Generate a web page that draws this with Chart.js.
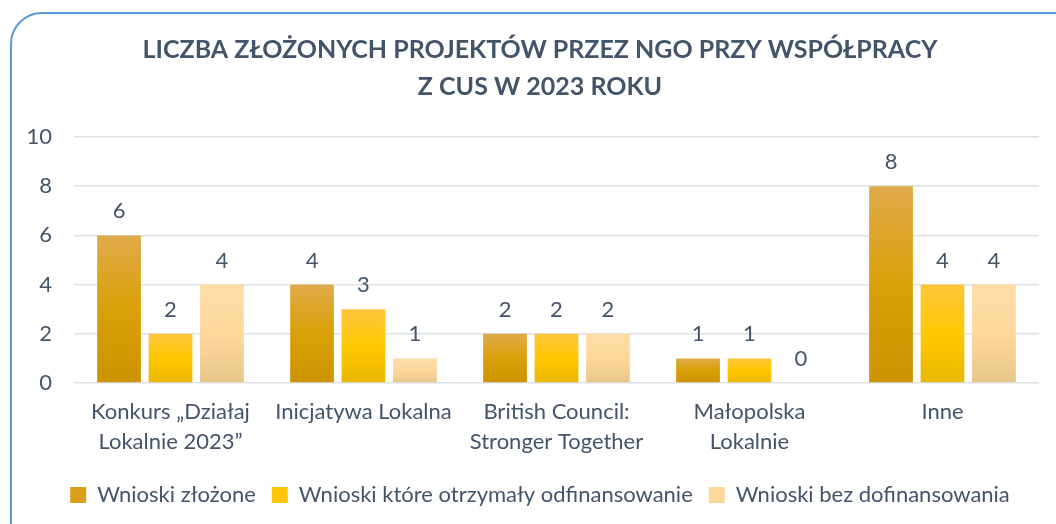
<!DOCTYPE html>
<html lang="pl">
<head>
  <meta charset="UTF-8">
  <title>Liczba złożonych projektów</title>
  <script src="https://cdn.jsdelivr.net/npm/chart.js"></script>
  <style>
    html, body { margin: 0; padding: 0; background: #fff; overflow: hidden; }
    #frame {
      position: absolute; left: 10px; top: 12px; width: 1080px; height: 560px;
      border: 2px solid #5B9BD5; border-radius: 32px; box-sizing: border-box;
    }
    #chart { position: absolute; left: 0; top: 0; }
  </style>
</head>
<body>
  <div id="frame"></div>
  <canvas id="chart" width="1056" height="524"></canvas>

  <script>
    // data
    const categories = [
      ['Konkurs „Działaj', 'Lokalnie 2023”'],
      ['Inicjatywa Lokalna'],
      ['British Council:', 'Stronger Together'],
      ['Małopolska', 'Lokalnie'],
      ['Inne']
    ];
    const zlozone = [6, 4, 2, 1, 8];
    const dofinansowane = [2, 3, 2, 1, 4];
    const bezDofinansowania = [4, 1, 2, 0, 4];
    const yTicks = [0, 2, 4, 6, 8, 10];

    const textColor = '#44546A';
    const font = 'Lato, "Open Sans", sans-serif';

    // vertical gradient over each bar's own height
    function barGradient(stops) {
      return function (ctx) {
        const chart = ctx.chart;
        if (!chart.chartArea || ctx.type !== 'data') return stops[1];
        const y = chart.scales.y;
        const top = y.getPixelForValue(ctx.raw);
        const bottom = y.getPixelForValue(0);
        if (Math.abs(bottom - top) < 1) return stops[1];
        const g = chart.ctx.createLinearGradient(0, top, 0, bottom);
        g.addColorStop(0, stops[0]);
        g.addColorStop(0.5, stops[1]);
        g.addColorStop(1, stops[2]);
        return g;
      };
    }

    const valueLabels = {
      id: 'valueLabels',
      afterDatasetsDraw(chart) {
        const c = chart.ctx;
        c.save();
        c.font = '22px ' + font;
        c.fillStyle = textColor;
        c.textAlign = 'center';
        c.textBaseline = 'middle';
        chart.data.datasets.forEach((ds, i) => {
          chart.getDatasetMeta(i).data.forEach((bar, j) => {
            c.fillText(String(ds.data[j]), bar.x, bar.y - 24);
          });
        });
        c.restore();
      }
    };

    const legendColors = ['#DAA01A', '#FFC60A', '#FDD89C'];

    new Chart(document.getElementById('chart'), {
      type: 'bar',
      data: {
        labels: categories,
        datasets: [{
          label: 'Wnioski złożone',
          data: zlozone,
          backgroundColor: barGradient(['#DFAB4A', '#DAA008', '#CD9300'])
        }, {
          label: 'Wnioski które otrzymały odfinansowanie',
          data: dofinansowane,
          backgroundColor: barGradient(['#FFC53E', '#FFC800', '#E9B700'])
        }, {
          label: 'Wnioski bez dofinansowania',
          data: bezDofinansowania,
          backgroundColor: barGradient(['#FEDDA6', '#FDD89D', '#E8C68A'])
        }]
      },
      options: {
        responsive: false,
        animation: false,
        categoryPercentage: 0.8,
        barPercentage: 0.85,
        layout: { padding: { left: 24, right: 0, top: 0, bottom: 8 } },
        plugins: {
          title: {
            display: true,
            text: ['LICZBA ZŁOŻONYCH PROJEKTÓW PRZEZ NGO PRZY WSPÓŁPRACY', 'Z CUS W 2023 ROKU'],
            color: textColor,
            font: { family: font, size: 25, weight: 'bold', lineHeight: 1.48 },
            padding: { top: 31, bottom: 32 }
          },
          legend: {
            position: 'bottom',
            labels: {
              color: textColor,
              font: { family: font, size: 22 },
              boxWidth: 16,
              boxHeight: 16,
              padding: 16,
              generateLabels(chart) {
                return chart.data.datasets.map((ds, i) => ({
                  text: ds.label,
                  fillStyle: legendColors[i],
                  strokeStyle: legendColors[i],
                  lineWidth: 0,
                  fontColor: textColor,
                  datasetIndex: i
                }));
              }
            }
          },
          tooltip: { enabled: false }
        },
        scales: {
          x: {
            grid: { display: false },
            border: { display: false },
            ticks: {
              color: textColor,
              font: { family: font, size: 22, lineHeight: 1.36 },
              padding: 6,
              maxRotation: 0
            },
            afterFit(scale) { scale.height = 85; }
          },
          y: {
            min: 0,
            max: 10,
            afterBuildTicks(scale) {
              scale.ticks = yTicks.map(v => ({ value: v }));
            },
            afterFit(scale) { scale.width = 50; },
            grid: { color: '#DDE1E8', lineWidth: 1.5, drawTicks: false },
            border: { display: false },
            ticks: {
              color: textColor,
              font: { family: font, size: 22 },
              padding: 22
            }
          },
          yPad: {
            position: 'right',
            display: true,
            grid: { display: false },
            border: { display: false },
            ticks: { display: false },
            afterFit(scale) { scale.width = 17; }
          }
        }
      },
      plugins: [valueLabels]
    });
  </script>
</body>
</html>
